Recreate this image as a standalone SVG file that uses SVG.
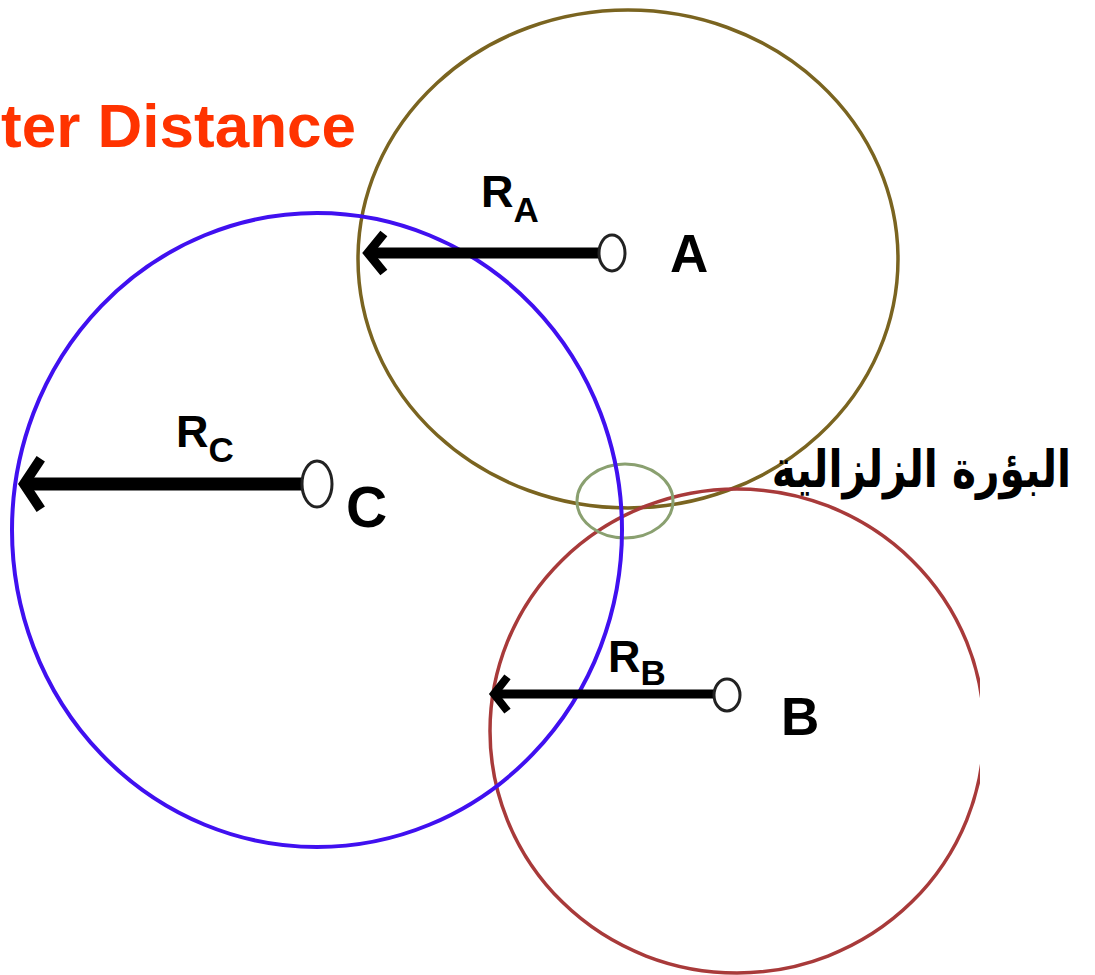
<svg xmlns="http://www.w3.org/2000/svg" width="1095" height="975" viewBox="0 0 1095 975">
<style>
.ring{fill:none}
.stn{fill:#fff;stroke:#222;stroke-width:3}
.lbl{font-family:"Liberation Sans",Arial,sans-serif;font-weight:bold;fill:#000}
.shaft{stroke:#000;fill:none;stroke-linecap:butt}
.head{stroke:#000;fill:none;stroke-linejoin:miter;stroke-linecap:square}
</style>
<defs>
<clipPath id="clipB"><rect x="0" y="0" width="980" height="975"/></clipPath>
</defs>
<rect width="1095" height="975" fill="#fff"/>
<text x="356" y="147" text-anchor="end" style="font-family:'Liberation Sans',Arial,sans-serif;font-weight:bold;font-size:62px;fill:#ff3300">ter Distance</text>
<g id="circleA"><ellipse class="ring" cx="628" cy="259" rx="270" ry="249" stroke="#7a6420" stroke-width="3.5"/></g>
<g id="circleB" clip-path="url(#clipB)"><ellipse class="ring" cx="737" cy="731" rx="247" ry="242" stroke="#a83a3a" stroke-width="3.5"/></g>
<g id="focus"><ellipse class="ring" cx="625" cy="501" rx="48" ry="37" stroke="#8aa070" stroke-width="3"/></g>
<g id="circleC"><ellipse class="ring" cx="317" cy="530" rx="305" ry="317" stroke="#4010f0" stroke-width="4"/></g>
<g id="connectors">
<line class="shaft" x1="370" y1="253" x2="600" y2="253" stroke-width="11"/>
<polyline class="head" points="381,237 368,253 381,269" stroke-width="9"/>
<line class="shaft" x1="24" y1="484" x2="302" y2="484" stroke-width="13"/>
<polyline class="head" points="38,463 24,484 38,505" stroke-width="10"/>
<line class="shaft" x1="494" y1="694" x2="716" y2="694" stroke-width="9"/>
<polyline class="head" points="505,680 494,694 505,708" stroke-width="8"/>
</g>
<g id="stationA">
<ellipse class="stn" cx="612" cy="253" rx="13" ry="18"/>
<text class="lbl" x="670" y="272" font-size="53">A</text>
<text class="lbl" x="481" y="207" font-size="45">R<tspan font-size="35" dy="15">A</tspan></text>
</g>
<g id="stationC">
<ellipse class="stn" cx="317" cy="484" rx="15" ry="23"/>
<text class="lbl" x="346" y="527" font-size="57">C</text>
<text class="lbl" x="176" y="447" font-size="45">R<tspan font-size="35" dy="15">C</tspan></text>
</g>
<g id="stationB">
<ellipse class="stn" cx="727" cy="695" rx="13" ry="16"/>
<text class="lbl" x="781" y="735" font-size="53">B</text>
<text class="lbl" x="608" y="672" font-size="45">R<tspan font-size="35" dy="13">B</tspan></text>
</g>
<g id="focusLabel">
<text x="0" y="0" transform="translate(1071,487) scale(1.02,1.3)" text-anchor="start" direction="rtl" style="font-family:'DejaVu Sans',sans-serif;font-weight:bold;font-size:40px;fill:#000">البؤرة الزلزالية</text>
</g>
</svg>
